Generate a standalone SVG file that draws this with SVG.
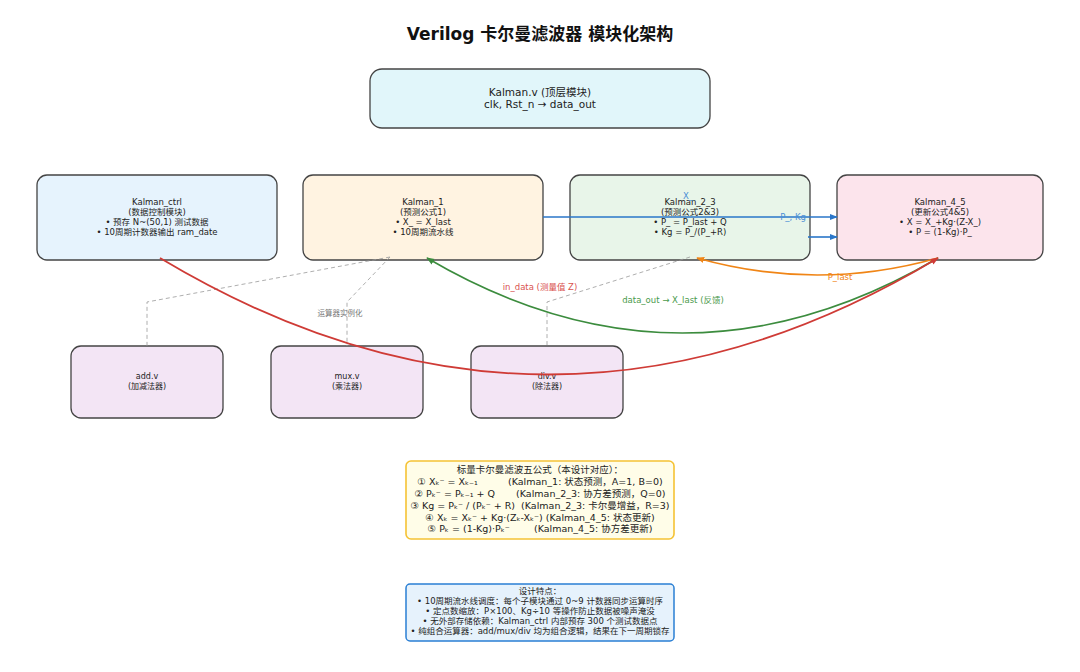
<svg xmlns="http://www.w3.org/2000/svg" width="1080" height="672" viewBox="0 0 1080 672">
<defs>
<style>
text{font-family:"DejaVu Sans","Noto Sans CJK SC",sans-serif;fill:#222;text-anchor:middle}
.title{font-size:17px;font-weight:bold;fill:#111}
.top{font-size:10.5px}
.n{font-size:8.5px}
.s{font-size:8px}
.box{stroke:#444;stroke-width:1.3}
.dash{fill:none;stroke:#999;stroke-width:0.8;stroke-dasharray:4 3}
.lbl{font-size:8.5px}
.f{font-size:9.5px}
.d{font-size:8.5px}
</style>
<marker id="ab" viewBox="0 0 10 10" refX="9" refY="5" markerWidth="8" markerHeight="8" markerUnits="userSpaceOnUse" orient="auto"><path d="M0,1 L10,5 L0,9 z" fill="#2a76c9"/></marker>
<marker id="ar" viewBox="0 0 10 10" refX="9" refY="5" markerWidth="8" markerHeight="8" markerUnits="userSpaceOnUse" orient="auto"><path d="M0,1 L10,5 L0,9 z" fill="#cf3b36"/></marker>
<marker id="ag" viewBox="0 0 10 10" refX="9" refY="5" markerWidth="8" markerHeight="8" markerUnits="userSpaceOnUse" orient="auto"><path d="M0,1 L10,5 L0,9 z" fill="#3c8c3e"/></marker>
<marker id="ao" viewBox="0 0 10 10" refX="9" refY="5" markerWidth="8" markerHeight="8" markerUnits="userSpaceOnUse" orient="auto"><path d="M0,1 L10,5 L0,9 z" fill="#f08516"/></marker>
</defs>
<rect width="1080" height="672" fill="#fff"/>
<text class="title" x="540" y="40">Verilog 卡尔曼滤波器 模块化架构</text>

<g id="kalman_top">
<rect class="box" x="370" y="69" width="340" height="59" rx="12" fill="#e1f6fa"/>
<text class="top" x="540" y="96">Kalman.v (顶层模块)</text>
<text class="top" x="540" y="107.5">clk, Rst_n → data_out</text>
</g>

<g id="kalman_ctrl">
<rect class="box" x="37" y="175" width="240" height="85" rx="10" fill="#e6f3fd"/>
<text class="n" x="157" y="205">Kalman_ctrl</text>
<text class="n" x="157" y="215">(数据控制模块)</text>
<text class="n" x="157" y="225">• 预存 N~(50,1) 测试数据</text>
<text class="n" x="157" y="235">• 10周期计数器输出 ram_date</text>
</g>

<g id="kalman_1">
<rect class="box" x="303" y="175" width="240" height="85" rx="10" fill="#fff3e1"/>
<text class="n" x="423" y="205">Kalman_1</text>
<text class="n" x="423" y="215">(预测公式1)</text>
<text class="n" x="423" y="225">• X_ = X_last</text>
<text class="n" x="423" y="235">• 10周期流水线</text>
</g>

<g id="kalman_2_3">
<rect class="box" x="570" y="175" width="240" height="85" rx="10" fill="#e8f5e9"/>
<text class="n" x="690" y="205">Kalman_2_3</text>
<text class="n" x="690" y="215">(预测公式2&amp;3)</text>
<text class="n" x="690" y="225">• P_ = P_last + Q</text>
<text class="n" x="690" y="235">• Kg = P_/(P_+R)</text>
</g>

<g id="kalman_4_5">
<rect class="box" x="837" y="175" width="206" height="85" rx="10" fill="#fce4ec"/>
<text class="n" x="940" y="205">Kalman_4_5</text>
<text class="n" x="940" y="215">(更新公式4&amp;5)</text>
<text class="n" x="940" y="225">• X = X_+Kg·(Z-X_)</text>
<text class="n" x="940" y="235">• P = (1-Kg)·P_</text>
</g>

<g id="add_v">
<rect class="box" x="71" y="346" width="152" height="72" rx="10" fill="#f3e5f5"/>
<text class="s" x="147" y="379">add.v</text>
<text class="s" x="147" y="389">(加减法器)</text>
</g>
<g id="mux_v">
<rect class="box" x="271" y="346" width="152" height="72" rx="10" fill="#f3e5f5"/>
<text class="s" x="347" y="379">mux.v</text>
<text class="s" x="347" y="389">(乘法器)</text>
</g>
<g id="div_v">
<rect class="box" x="471" y="346" width="152" height="72" rx="10" fill="#f3e5f5"/>
<text class="s" x="547" y="379">div.v</text>
<text class="s" x="547" y="389">(除法器)</text>
</g>

<g id="connectors">
<polyline class="dash" points="390,257 147,302 147,346"/>
<polyline class="dash" points="390,257 347,302 347,346"/>
<polyline class="dash" points="690,257 547,302 547,346"/>
<text x="340" y="316" style="font-size:7.5px;fill:#777">运算器实例化</text>

<line x1="543" y1="217" x2="837" y2="217" stroke="#2a76c9" stroke-width="1.6" marker-end="url(#ab)"/>
<text class="lbl" x="688" y="199" style="fill:#4a8fd6">X_</text>
<line x1="808" y1="237" x2="837" y2="237" stroke="#2a76c9" stroke-width="1.6" marker-end="url(#ab)"/>
<text class="lbl" x="793" y="220" style="fill:#4a8fd6">P_, Kg</text>

<path d="M938,258 Q817,292 697,258" fill="none" stroke="#f08516" stroke-width="1.6" marker-end="url(#ao)"/>
<text class="lbl" x="840" y="280" style="fill:#f08516">P_last</text>

<path d="M938,258 Q682,408 427,258" fill="none" stroke="#3c8c3e" stroke-width="1.6" marker-end="url(#ag)"/>
<text class="lbl" x="673" y="303" style="fill:#4a9a4c">data_out → X_last (反馈)</text>

<path d="M160,258 Q549,491 938,258" fill="none" stroke="#cf3b36" stroke-width="1.8" marker-end="url(#ar)"/>
<text class="lbl" x="540" y="290" style="fill:#d9534f">in_data (测量值 Z)</text>
</g>

<g id="formula_box">
<rect x="406" y="461" width="268" height="78" rx="5" fill="#fffde8" stroke="#f5c234" stroke-width="1.6"/>
<text class="f" x="540" y="473" xml:space="preserve">标量卡尔曼滤波五公式（本设计对应）：</text>
<text class="f" x="540" y="485" xml:space="preserve">① Xₖ⁻ = Xₖ₋₁          (Kalman_1: 状态预测，A=1, B=0)</text>
<text class="f" x="540" y="497" xml:space="preserve">② Pₖ⁻ = Pₖ₋₁ + Q       (Kalman_2_3: 协方差预测，Q=0)</text>
<text class="f" x="540" y="509" xml:space="preserve">③ Kg = Pₖ⁻ / (Pₖ⁻ + R)  (Kalman_2_3: 卡尔曼增益，R=3)</text>
<text class="f" x="540" y="520.5" xml:space="preserve">④ Xₖ = Xₖ⁻ + Kg·(Zₖ-Xₖ⁻) (Kalman_4_5: 状态更新)</text>
<text class="f" x="540" y="532" xml:space="preserve">⑤ Pₖ = (1-Kg)·Pₖ⁻        (Kalman_4_5: 协方差更新)</text>
</g>

<g id="design_box">
<rect x="406" y="584" width="268" height="57" rx="4" fill="#e6f2fc" stroke="#2a7fd4" stroke-width="1.5"/>
<text class="d" x="540" y="594">设计特点：</text>
<text class="d" x="540" y="604">• 10周期流水线调度：每个子模块通过 0~9 计数器同步运算时序</text>
<text class="d" x="540" y="614">• 定点数缩放：P×100、Kg÷10 等操作防止数据被噪声淹没</text>
<text class="d" x="540" y="624">• 无外部存储依赖：Kalman_ctrl 内部预存 300 个测试数据点</text>
<text class="d" x="540" y="634">• 纯组合运算器：add/mux/div 均为组合逻辑，结果在下一周期锁存</text>
</g>
</svg>
